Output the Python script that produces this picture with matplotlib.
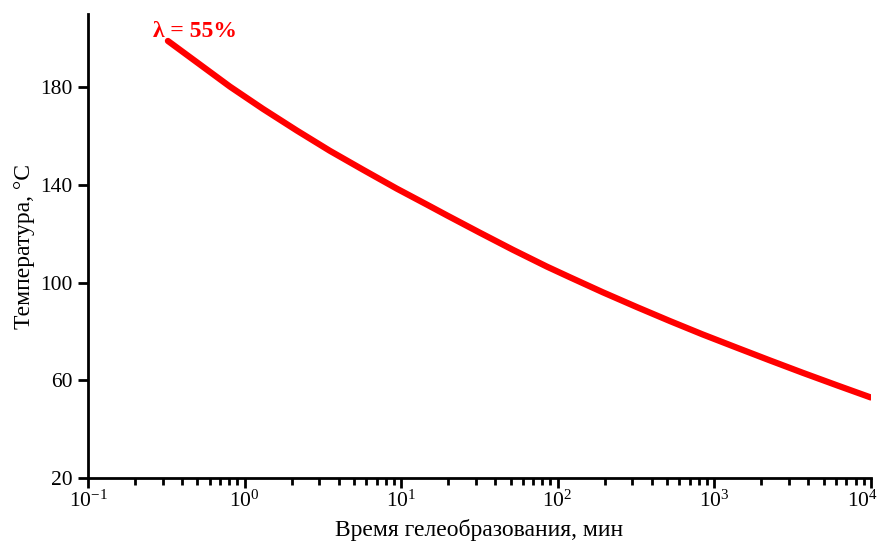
import matplotlib.pyplot as plt
import matplotlib.transforms as mtransforms

# Данные (время в минутах, температура в °C)
vremya = [0.324, 0.807, 1.31, 2.16, 3.51, 5.70, 9.40, 14.6, 19.6, 31.8, 51.7,
          85.3, 120, 194, 321, 521, 845, 1393, 2264, 3680, 6070, 10000]
temperatura = [199.0, 180.3, 171.2, 162.3, 154.0, 146.3, 138.5, 132.0, 127.6, 120.5, 113.5,
               106.6, 102.2, 96.1, 90.0, 84.3, 78.8, 73.4, 68.2, 63.1, 58.0, 53.0]
x_ticks = [0.1, 1, 10, 100, 1000, 10000]
y_ticks = [20, 60, 100, 140, 180]
metka = "λ = 55%"

plt.rcParams['font.family'] = ['Liberation Serif', 'DejaVu Serif']
plt.rcParams['mathtext.fontset'] = 'stix'

fig = plt.figure(figsize=(8.79, 5.42), dpi=100)
ax = fig.add_axes([0.1001, 0.118, 0.8905, 0.856])

ax.plot(vremya, temperatura, color='#ff0000', linewidth=4.5, solid_capstyle='round')
ax.text(0.26, 200.7, metka, color='#ff0000', fontsize=17, fontweight='bold',
        ha='left', va='baseline')

ax.set_xscale('log')
ax.set_xlim(0.1, 10000)
ax.set_ylim(20, 210)
ax.set_xticks(x_ticks)
ax.set_yticks(y_ticks)

ax.spines['top'].set_visible(False)
ax.spines['right'].set_visible(False)
for s in ['left', 'bottom']:
    ax.spines[s].set_linewidth(2)

ax.tick_params(which='major', direction='out', length=7, width=2, labelsize=15.5, pad=4)
ax.tick_params(axis='x', which='major', pad=2)
ax.tick_params(which='minor', direction='out', length=5, width=2)

ax.set_xlabel("Время гелеобразования, мин", fontsize=17, labelpad=5)
ax.set_ylabel("Температура, °C", fontsize=17, labelpad=4)

# последняя подпись (10^4) прижата к правому краю, как на исходнике
fig.canvas.draw()
posl = ax.xaxis.get_major_ticks()[-1].label1
posl.set_transform(posl.get_transform() + mtransforms.ScaledTranslation(-8 / 100, 0, fig.dpi_scale_trans))

fig.savefig("out.png", dpi=100)
